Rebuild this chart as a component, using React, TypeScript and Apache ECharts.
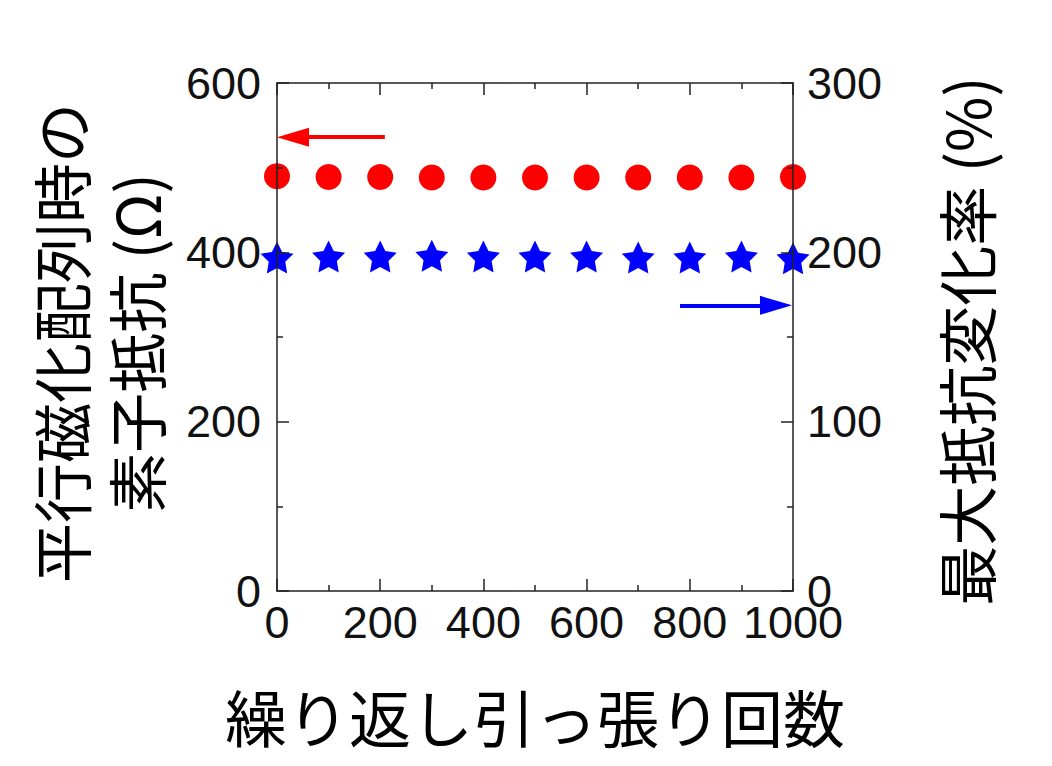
import React, { useEffect, useRef } from "react";
import * as echarts from "echarts";

const cycles = [0, 100, 200, 300, 400, 500, 600, 700, 800, 900, 1000];
const parallelResistance = [490, 489, 489, 488.5, 488.5, 488.5, 488.5, 488.5, 488.5, 488.5, 489];
const mrRatio = [197, 197.5, 197.5, 198, 197.5, 197.5, 197.5, 197, 197, 197.5, 196.5];

const xTicks = { min: 0, max: 1000, interval: 200 };
const leftTicks = { min: 0, max: 600, interval: 200 };
const rightTicks = { min: 0, max: 300, interval: 100 };

// arrow annotations (data coordinates)
const redArrow = { from: [209, 536], to: [31, 536] };
const blueArrow = { from: [781, 168.7], to: [967, 168.7] };

const xName = "繰り返し引っ張り回数";
const leftName = "平行磁化配列時の\n素子抵抗 (Ω)";
const rightName = "最大抵抗変化率 (%)";

const STAR =
  "path://M50 0 L64.69 29.78 L97.55 34.55 L73.78 57.73 L79.39 90.45 L50 75 L20.61 90.45 L26.22 57.73 L2.45 34.55 L35.31 29.78 Z";

const LATIN = "'Liberation Sans', Arial, 'Noto Sans CJK JP', sans-serif";
const AXIS_COLOR = "#222";

function axisCommon(showLabel: boolean, margin: number) {
  return {
    z: 10,
    axisLine: { show: true, onZero: false, lineStyle: { color: AXIS_COLOR, width: 1.5 } },
    axisTick: { show: true, inside: true, length: 12, lineStyle: { color: AXIS_COLOR, width: 1.5 } },
    minorTick: { show: true, splitNumber: 2, length: 6, lineStyle: { color: AXIS_COLOR, width: 1.5 } },
    splitLine: { show: false },
    minorSplitLine: { show: false },
    axisLabel: {
      show: showLabel,
      margin,
      fontFamily: LATIN,
      fontSize: 45,
      lineHeight: 45,
      color: "#111",
      formatter: (v: number) => String(v),
    },
  };
}

export default function App() {
  const ref = useRef<HTMLDivElement>(null);
  useEffect(() => {
    if (!ref.current) return;
    const chart = echarts.init(ref.current, undefined, { renderer: "svg" });
    const nameFont = "60px 'Noto Sans CJK JP', 'Liberation Sans', sans-serif";
    chart.setOption({
      animation: false,
      backgroundColor: "#fff",
      grid: { left: 277, top: 83, width: 516, height: 508, containLabel: false },
      xAxis: [
        { type: "value", position: "bottom", ...xTicks, ...axisCommon(true, 9) },
        { type: "value", position: "top", ...xTicks, ...axisCommon(false, 9) },
      ],
      yAxis: [
        { type: "value", position: "left", ...leftTicks, ...axisCommon(true, 16) },
        { type: "value", position: "right", ...rightTicks, ...axisCommon(true, 14) },
      ],
      series: [
        {
          type: "scatter",
          name: "平行磁化配列時の素子抵抗",
          xAxisIndex: 0,
          yAxisIndex: 0,
          data: cycles.map((c, i) => [c, parallelResistance[i]]),
          symbol: "circle",
          symbolSize: 26,
          itemStyle: { color: "#ff0000", opacity: 1 },
          markLine: {
            silent: true,
            symbol: ["none", "triangle"],
            symbolSize: [19, 32],
            label: { show: false },
            lineStyle: { color: "#ff0000", width: 4, type: "solid", opacity: 1 },
            data: [[{ coord: redArrow.from }, { coord: redArrow.to }]],
          },
        },
        {
          type: "scatter",
          name: "最大抵抗変化率",
          xAxisIndex: 0,
          yAxisIndex: 1,
          data: cycles.map((c, i) => [c, mrRatio[i]]),
          symbol: STAR,
          symbolSize: [33, 32],
          itemStyle: { color: "#0000ff", opacity: 1 },
          markLine: {
            silent: true,
            symbol: ["none", "triangle"],
            symbolSize: [19, 32],
            label: { show: false },
            lineStyle: { color: "#0000ff", width: 4, type: "solid", opacity: 1 },
            data: [[{ coord: blueArrow.from }, { coord: blueArrow.to }]],
          },
        },
      ],
      graphic: [
        {
          type: "text",
          x: 535,
          y: 716,
          style: {
            text: xName,
            font: "62px 'Noto Sans CJK JP', 'Liberation Sans', sans-serif",
            fill: "#000",
            align: "center",
            verticalAlign: "middle",
          },
        },
        {
          type: "text",
          x: 97,
          y: 343,
          rotation: Math.PI / 2,
          style: {
            text: leftName,
            font: nameFont,
            lineHeight: 75,
            fill: "#000",
            align: "center",
            verticalAlign: "middle",
          },
        },
        {
          type: "text",
          x: 964,
          y: 341,
          rotation: Math.PI / 2,
          style: { text: rightName, font: nameFont, fill: "#000", align: "center", verticalAlign: "middle" },
        },
      ],
    });
    return () => chart.dispose();
  }, []);
  return (
    <div
      ref={ref}
      style={{ position: "fixed", left: 0, top: 0, width: 1052, height: 766, background: "#fff" }}
    />
  );
}
